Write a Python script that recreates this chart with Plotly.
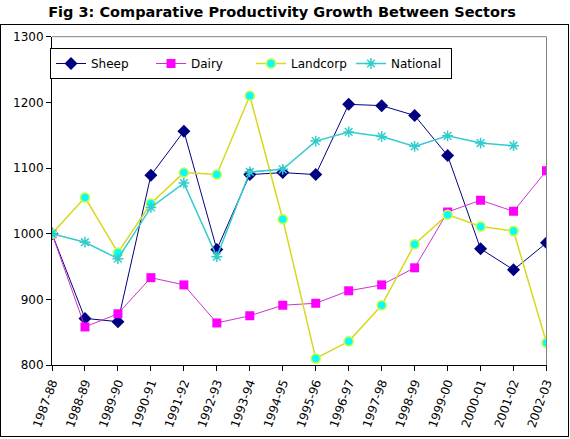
import plotly.graph_objects as go

years = ["1987-88", "1988-89", "1989-90", "1990-91", "1991-92", "1992-93", "1993-94", "1994-95",
         "1995-96", "1996-97", "1997-98", "1998-99", "1999-00", "2000-01", "2001-02", "2002-03"]
sheep = [1000, 871, 866, 1089, 1156, 976, 1090, 1093, 1090, 1197, 1195, 1180, 1119, 977, 945, 986]
dairy = [1000, 858, 878, 933, 922, 864, 875, 891, 894, 913, 922, 948, 1033, 1051, 1034, 1096]
landcorp = [1000, 1055, 971, 1046, 1093, 1090, 1210, 1022, 810, 836, 891, 984, 1029, 1011, 1004, 834]
national = [1000, 987, 962, 1040, 1077, 965, 1094, 1098, 1141, 1155, 1148, 1133, 1149, 1138, 1134, None]
yticks = [800, 900, 1000, 1100, 1200, 1300]

xs = list(range(len(years)))
FONT = "DejaVu Sans"

W, H = 570, 439
PL, PR, PT, PB = 52, 546.5, 36.7, 365  # plot area edges in pixels
FRAME = dict(l=0.5, r=568.5, t=24.5, b=436.5)  # outer chart border in pixels


def px(x):
    return x / W


def py(y):
    return (H - y) / H


fig = go.Figure()
fig.add_trace(go.Scatter(x=xs, y=sheep, name="Sheep", mode="lines+markers",
                         line=dict(color="#000080", width=1),
                         marker=dict(symbol="diamond", size=10, color="#000080")))
fig.add_trace(go.Scatter(x=xs, y=dairy, name="Dairy", mode="lines+markers",
                         line=dict(color="#cc33cc", width=1),
                         marker=dict(symbol="square", size=9, color="#ff00ff")))
fig.add_trace(go.Scatter(x=xs, y=landcorp, name="Landcorp", mode="lines+markers",
                         line=dict(color="#d8d820", width=1.5),
                         marker=dict(symbol="circle", size=9, color="#00ffff",
                                     line=dict(color="#ccff33", width=1.5))))
fig.add_trace(go.Scatter(x=xs, y=national, name="National", mode="lines+markers",
                         line=dict(color="#33cccc", width=1.5),
                         marker=dict(symbol="asterisk-open", size=9,
                                     line=dict(color="#66bbbb", width=1.5))))

# outer border drawn on an invisible full-figure overlay axis (pixel units)
fig.add_trace(go.Scatter(
    x=[FRAME["l"], FRAME["r"], FRAME["r"], FRAME["l"], FRAME["l"]],
    y=[FRAME["t"], FRAME["t"], FRAME["b"], FRAME["b"], FRAME["t"]],
    xaxis="x2", yaxis="y2", mode="lines", line=dict(color="black", width=1),
    showlegend=False, hoverinfo="skip", cliponaxis=False))

fig.update_layout(
    width=W, height=H,
    margin=dict(l=0, r=0, t=0, b=0, autoexpand=False),
    paper_bgcolor="white", plot_bgcolor="rgba(0,0,0,0)",
    font=dict(family=FONT, size=12, color="black"),
    title=dict(text="<b>Fig 3: Comparative Productivity Growth Between Sectors</b>",
               x=282 / W, xanchor="center", y=1 - 12 / H, yanchor="middle",
               font=dict(family=FONT, size=14.5, color="black")),
    showlegend=True,
    legend=dict(orientation="h", x=px(50), y=py(48),
                xanchor="left", yanchor="top",
                bordercolor="black", borderwidth=1, bgcolor="white",
                font=dict(family=FONT, size=12),
                entrywidth=55, entrywidthmode="pixels"),
    xaxis=dict(domain=[px(PL), px(PR)], range=[0, 15], tickvals=xs, ticktext=years,
               tickangle=-70, showgrid=False, zeroline=False, automargin=False,
               showline=True, linecolor="black", linewidth=1, mirror=False,
               ticks="outside", ticklen=5, tickcolor="black",
               tickfont=dict(family=FONT, size=12)),
    yaxis=dict(domain=[py(PB), py(PT)], range=[800, 1300], tickvals=yticks,
               showgrid=False, zeroline=False, automargin=False,
               showline=True, linecolor="black", linewidth=1,
               ticks="outside", ticklen=5, tickcolor="black",
               tickfont=dict(family=FONT, size=12)),
    xaxis2=dict(domain=[0, 1], range=[0, W], visible=False, anchor="y2", fixedrange=True),
    yaxis2=dict(domain=[0, 1], range=[H, 0], visible=False, anchor="x2", fixedrange=True),
    shapes=[
        dict(type="line", xref="paper", yref="paper", x0=px(PL), x1=px(PR), y0=py(PT), y1=py(PT),
             line=dict(color="#808080", width=1)),
        dict(type="line", xref="paper", yref="paper", x0=px(PR), x1=px(PR), y0=py(PB), y1=py(PT),
             line=dict(color="#808080", width=1)),
        dict(type="rect", xref="paper", yref="paper",
             x0=px(FRAME["l"]), x1=px(FRAME["r"]), y0=py(FRAME["b"]), y1=py(FRAME["t"]),
             line=dict(color="black", width=1), fillcolor="rgba(0,0,0,0)", layer="above"),
    ],
)

fig.write_html("out.html")
